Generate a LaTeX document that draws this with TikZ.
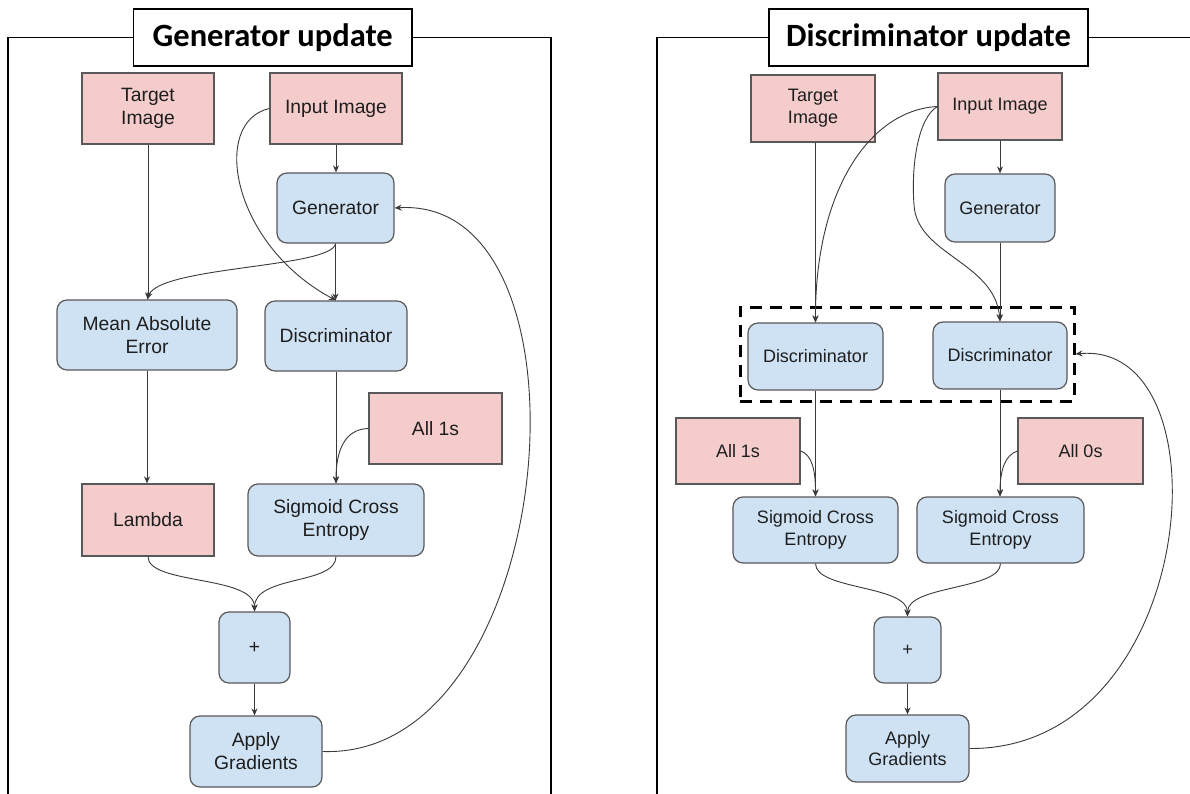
\documentclass[tikz,border=0pt]{standalone}
\usepackage{fontspec}
\setmainfont{Liberation Sans}
\newfontfamily\titlefont{Carlito}
\usetikzlibrary{arrows.meta}
\definecolor{pinkfill}{HTML}{F4CCCC}
\definecolor{bluefill}{HTML}{CFE2F3}
\definecolor{boxline}{HTML}{595959}
\definecolor{linec}{HTML}{3A3A3A}
\definecolor{txt}{HTML}{1E1E1E}
\tikzset{
  base/.style={draw=boxline, line width=1.2pt, text=txt, align=center, inner sep=0pt},
  pinkbox/.style={base, fill=pinkfill},
  bluebox/.style={base, fill=bluefill, rounded corners=10pt},
  lfont/.style={font=\fontsize{19.3}{23}\selectfont},
  rfont/.style={font=\fontsize{18}{21.7}\selectfont},
  conn/.style={draw=linec, line width=0.9pt, -{Stealth[length=7pt,width=6pt]}},
  titlebox/.style={draw=black, line width=1.5pt, fill=white, inner sep=0pt,
    font=\titlefont\bfseries\fontsize{32.5}{36}\selectfont},
  frameline/.style={draw=black, line width=1.6pt},
  dashbox/.style={draw=black, line width=3pt, dash pattern=on 12pt off 8pt, inner sep=0pt},
}
\begin{document}
\begin{tikzpicture}[x=1pt,y=-1pt]
\useasboundingbox (0,0) rectangle (1190,794);
\fill[white] (0,0) rectangle (1190,794);

% ---------- Left panel: Generator update ----------
\node[titlebox, minimum width=278.5pt, minimum height=57pt] (titleL) at (272.75,37.5) {Generator update};
\draw[frameline] (titleL.west) -- (8,37.5) -- (8,800);
\draw[frameline] (titleL.east) -- (551,37.5) -- (551,800);

\node[pinkbox, lfont, minimum width=132pt, minimum height=71pt] (tgtL) at (148,108.5) {Target\\Image};
\node[pinkbox, lfont, minimum width=132pt, minimum height=71pt] (inL) at (336,108.5) {Input Image};
\node[bluebox, lfont, minimum width=117pt, minimum height=70pt] (genL) at (335.5,208) {Generator};
\node[bluebox, lfont, minimum width=180pt, minimum height=70pt] (maeL) at (147,335) {Mean Absolute\\Error};
\node[bluebox, lfont, minimum width=142pt, minimum height=70pt] (disL) at (336,336) {Discriminator};
\node[pinkbox, lfont, minimum width=133pt, minimum height=71pt] (oneL) at (435.5,428.5) {All 1s};
\node[pinkbox, lfont, minimum width=132pt, minimum height=72pt] (lamL) at (148,520) {Lambda};
\node[bluebox, lfont, minimum width=176pt, minimum height=72pt] (sceL) at (336,520) {Sigmoid Cross\\Entropy};
\node[bluebox, lfont, minimum width=71pt, minimum height=71pt] (plusL) at (254.5,647.5) {+};
\node[bluebox, lfont, minimum width=132pt, minimum height=71pt] (appL) at (256,751.5) {Apply\\Gradients};

\draw[conn] (tgtL.south) -- (tgtL.south |- maeL.north);
\draw[conn] (inL.south) -- (inL.south |- genL.north);
\draw[conn] (genL.south) -- (genL.south |- disL.north);
\draw[conn] (inL.west) .. controls (210,122) and (232,245) .. (disL.north);
\draw[conn] (genL.south) .. controls (332,268) and (160,266) .. (maeL.north);
\draw[conn] (maeL.south) -- (maeL.south |- lamL.north);
\draw[conn] (disL.south) -- (disL.south |- sceL.north);
\draw[conn] (oneL.west) .. controls (345,429) and (336,450) .. (sceL.north);
\draw[conn] (lamL.south) .. controls (148,585) and (254.5,575) .. (plusL.north);
\draw[conn] (sceL.south) .. controls (336,585) and (254.5,575) .. (plusL.north);
\draw[conn] (plusL.south) -- (plusL.south |- appL.north);
\draw[conn] (appL.east) .. controls (560,760) and (605,195) .. (genL.east);

% ---------- Right panel: Discriminator update ----------
\node[titlebox, minimum width=319pt, minimum height=57pt] (titleR) at (928.5,37.5) {Discriminator update};
\draw[frameline] (titleR.west) -- (657,37.5) -- (657,800);
\draw[frameline] (titleR.east) -- (1195,37.5);

\node[dashbox, minimum width=334pt, minimum height=94pt] (dbox) at (907,354) {};
\node[pinkbox, rfont, minimum width=124pt, minimum height=67pt] (tgtR) at (813,108.5) {Target\\Image};
\node[pinkbox, rfont, minimum width=124pt, minimum height=67pt] (inR) at (1000,106.5) {Input Image};
\node[bluebox, rfont, minimum width=110pt, minimum height=68pt] (genR) at (1000,208) {Generator};
\node[bluebox, rfont, minimum width=135pt, minimum height=67pt] (dis1) at (815.5,356.5) {Discriminator};
\node[bluebox, rfont, minimum width=134pt, minimum height=67pt] (dis2) at (1000,355.5) {Discriminator};
\node[pinkbox, rfont, minimum width=124pt, minimum height=66pt] (one1) at (738,451) {All 1s};
\node[pinkbox, rfont, minimum width=125pt, minimum height=66pt] (zero2) at (1080.5,451) {All 0s};
\node[bluebox, rfont, minimum width=165pt, minimum height=66pt] (sig1) at (815.5,530) {Sigmoid Cross\\Entropy};
\node[bluebox, rfont, minimum width=167pt, minimum height=66pt] (sig2) at (1000.5,530) {Sigmoid Cross\\Entropy};
\node[bluebox, rfont, minimum width=67pt, minimum height=66pt] (plusR) at (907.5,650) {+};
\node[bluebox, rfont, minimum width=123pt, minimum height=67pt] (appR) at (907.5,748.5) {Apply\\Gradients};

\draw[conn] (tgtR.south -| dis1.north) -- (dis1.north);
\draw[conn] (inR.west) .. controls (870,110) and (815,190) .. (dis1.north);
\draw[conn] (inR.south) -- (genR.north);
\draw[conn] (genR.south) -- (dis2.north);
\draw[conn] (inR.west) .. controls (918,118) and (911,165) .. (914,205)
                      .. controls (917,255) and (995,262) .. (dis2.north);
\draw[conn] (dis1.south) -- (sig1.north);
\draw[conn] (dis2.south) -- (dis2.south |- sig2.north);
\draw[conn] (one1.east) .. controls (812,455) and (815.5,470) .. (sig1.north);
\draw[conn] (zero2.west) .. controls (1005,455) and (1000,470) .. (dis2.south |- sig2.north);
\draw[conn] (sig1.south) .. controls (815.5,590) and (907.5,585) .. (plusR.north);
\draw[conn] (sig2.south) .. controls (1000.5,590) and (907.5,585) .. (plusR.north);
\draw[conn] (plusR.south) -- (appR.north);
\draw[conn] (appR.east) .. controls (1200,750) and (1230,340) .. (dbox.east);
\end{tikzpicture}
\end{document}
